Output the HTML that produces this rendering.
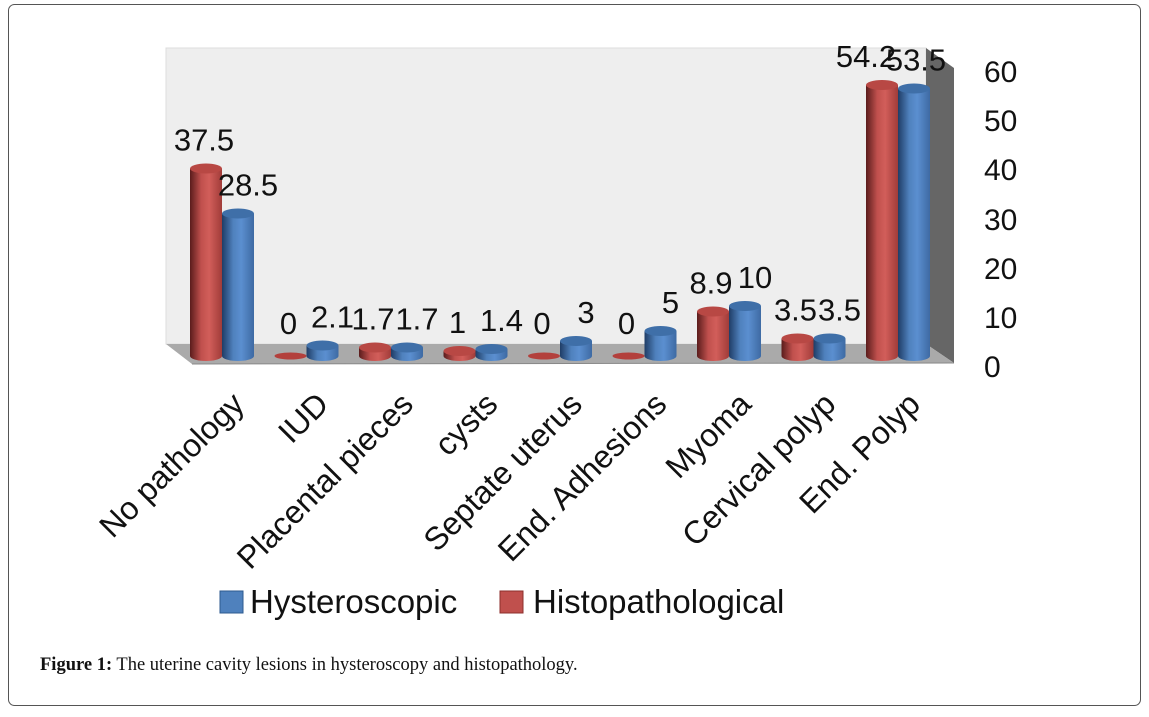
<!DOCTYPE html>
<html><head><meta charset="utf-8"><style>
body{margin:0;background:#fff;width:1149px;height:712px;overflow:hidden}
</style></head><body>
<svg width="1149" height="712" xmlns="http://www.w3.org/2000/svg" font-family="Liberation Sans, sans-serif">
<defs>
<linearGradient id="rg" x1="0" x2="1"><stop offset="0" stop-color="#5a1c1c"/><stop offset="0.35" stop-color="#c0504d"/><stop offset="0.6" stop-color="#d25e5a"/><stop offset="1" stop-color="#a03c39"/></linearGradient>
<linearGradient id="bg" x1="0" x2="1"><stop offset="0" stop-color="#1f3d66"/><stop offset="0.35" stop-color="#4f81bd"/><stop offset="0.6" stop-color="#5b8fd0"/><stop offset="1" stop-color="#3e6aa3"/></linearGradient>
</defs>
<rect x="8.5" y="4.5" width="1132" height="701" rx="6" fill="#fff" stroke="#555"/>
<rect x="166" y="48" width="760" height="296" fill="#eeeeee" stroke="#dddddd"/>
<polygon points="926,48 954,68 954,363 926,344" fill="#666"/>
<polygon points="166,344 926,344 954,363 192,364" fill="#aaaaaa"/>
<line x1="192" y1="364" x2="954" y2="363" stroke="#888"/>
<g id="bars"></g>
<g font-size="30" fill="#111">
<text x="984" y="377">0</text><text x="984" y="328">10</text><text x="984" y="279">20</text><text x="984" y="230">30</text><text x="984" y="180">40</text><text x="984" y="131">50</text><text x="984" y="82">60</text>
</g>
<g id="labels" font-size="31" fill="#111"></g>
<g font-size="32" fill="#111" id="cats"></g>
<rect x="220" y="591" width="23" height="22" fill="#4f81bd" stroke="#2c5a8f"/>
<text x="250" y="613" font-size="33" fill="#111">Hysteroscopic</text>
<rect x="500" y="591" width="23" height="22" fill="#c0504d" stroke="#8c2f2c"/>
<text x="533" y="613" font-size="33" fill="#111">Histopathological</text>
<text x="40" y="670" font-family="Liberation Serif, serif" font-size="18.5" fill="#111"><tspan font-weight="bold">Figure 1:</tspan> The uterine cavity lesions in hysteroscopy and histopathology.</text>
</svg>
<script>
var cats=["No pathology","IUD","Placental pieces","cysts","Septate uterus","End. Adhesions","Myoma","Cervical polyp","End. Polyp"];
var red=[37.5,0,1.7,1,0,0,8.9,3.5,54.2];
var blue=[28.5,2.1,1.7,1.4,3,5,10,3.5,53.5];
var ns="http://www.w3.org/2000/svg";
function el(t,a,p){var e=document.createElementNS(ns,t);for(var k in a)e.setAttribute(k,a[k]);p.appendChild(e);return e;}
var B=document.getElementById("bars"),L=document.getElementById("labels"),C=document.getElementById("cats");
function cyl(cx,v,g,top,flat){var base=356,h=v*5,y=base-h,w=16;
 if(v==0){el("ellipse",{cx:cx,cy:base,rx:w,ry:3.5,fill:flat},B);return;}
 el("ellipse",{cx:cx,cy:base,rx:w,ry:5,fill:"url(#"+g+")"},B);
 el("rect",{x:cx-w,y:y,width:2*w,height:h,fill:"url(#"+g+")"},B);
 el("ellipse",{cx:cx,cy:y,rx:w,ry:5,fill:top},B);}
for(var i=0;i<9;i++){var rc=206+84.5*i,bc=rc+32;
 cyl(rc,red[i],"rg","#b84844","#b3403c");cyl(bc,blue[i],"bg","#3f6fa8","#4f81bd");
 var rx=rc-2,bx=bc+10; if(i==8){rx=rc-16;bx=bc+2;}
 var t=el("text",{x:rx,y:356-red[i]*5-(red[i]==0?22:18),"text-anchor":"middle"},L);t.textContent=red[i];
 t=el("text",{x:bx,y:356-blue[i]*5-18,"text-anchor":"middle"},L);t.textContent=blue[i];
 var ax=rc+40,ay=406;t=el("text",{x:ax,y:ay,"text-anchor":"end",transform:"rotate(-45 "+ax+" "+ay+")"},C);t.textContent=cats[i];}
</script>
</body></html>
